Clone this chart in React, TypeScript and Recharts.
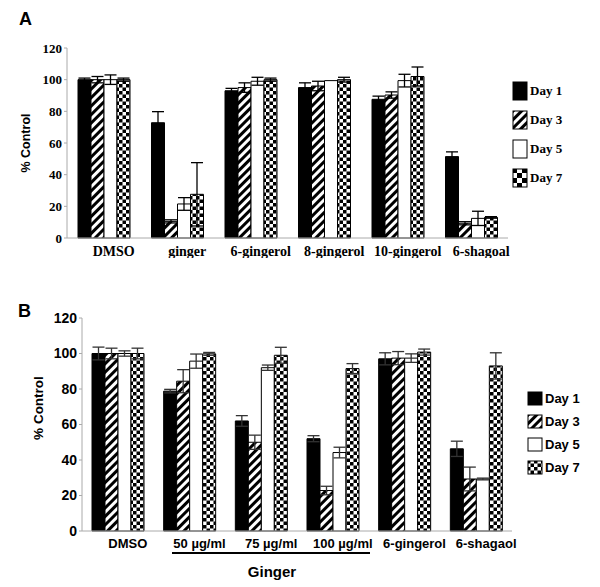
import { Bar, BarChart, ErrorBar, XAxis, YAxis } from "recharts";

// ---- panel A ----
const groupsA = ["DMSO", "ginger", "6-gingerol", "8-gingerol", "10-gingerol", "6-shagoal"];
const aDay1 = [100, 72.8, 93, 95, 87.6, 51.4];
const aDay1Err = [1, 7, 1.5, 3, 2, 3];
const aDay3 = [100, 10.5, 95, 96, 90.3, 9.3];
const aDay3Err = [2, 1, 3, 3, 2, 1];
const aDay5 = [100, 21.5, 99, 99.4, 99.4, 12.4];
const aDay5Err = [3, 4, 2.5, 0, 4, 4.5];
const aDay7 = [100, 27.6, 100, 100, 102, 13];
const aDay7Err = [1, 20, 1, 1.5, 6, 0.5];

// ---- panel B ----
const groupsB = ["DMSO", "50 µg/ml", "75 µg/ml", "100 µg/ml", "6-gingerol", "6-shagaol"];
const bDay1 = [100, 78.8, 62, 52, 97, 46.3];
const bDay1Err = [3.6, 1, 3, 1.7, 3.4, 4.3];
const bDay3 = [100, 84.4, 50, 22.8, 97.4, 29.3];
const bDay3Err = [3, 6.5, 4, 2.4, 3.7, 6.7];
const bDay5 = [100, 95.7, 92, 44.2, 97.4, 29.3];
const bDay5Err = [1.5, 4, 1.5, 3, 2.4, 0.5];
const bDay7 = [100, 99.8, 99, 91.5, 100.8, 93];
const bDay7Err = [3, 0.8, 4.5, 2.8, 1.7, 7.4];

const days = ["Day 1", "Day 3", "Day 5", "Day 7"];
const yTicks = [0, 20, 40, 60, 80, 100, 120];

const SERIF = "'Liberation Serif', 'Times New Roman', serif";
const SANS = "'Liberation Sans', Arial, sans-serif";

const fills = ["#000", "url(#hatch)", "#fff", "url(#check)"];
const swatchA = ["#000", "url(#hatch)", "#fff", "url(#checkBig)"];

const build = (g: string[], s: number[][]) =>
  g.map((name, i) => ({
    name,
    d1: s[0][i], e1: s[1][i],
    d3: s[2][i], e3: s[3][i],
    d5: s[4][i], e5: s[5][i],
    d7: s[6][i], e7: s[7][i],
  }));

const dataA = build(groupsA, [aDay1, aDay1Err, aDay3, aDay3Err, aDay5, aDay5Err, aDay7, aDay7Err]);
const dataB = build(groupsB, [bDay1, bDay1Err, bDay3, bDay3Err, bDay5, bDay5Err, bDay7, bDay7Err]);

function Patterns() {
  return (
    <svg width="0" height="0" style={{ position: "absolute" }}>
      <defs>
        <pattern id="hatch" width="6" height="6" patternUnits="userSpaceOnUse" patternTransform="rotate(45)">
          <rect width="6" height="6" fill="#fff" />
          <rect width="3" height="6" fill="#000" />
        </pattern>
        <pattern id="check" width="7" height="7" patternUnits="userSpaceOnUse">
          <rect width="7" height="7" fill="#fff" />
          <rect width="3.5" height="3.5" fill="#000" />
          <rect x="3.5" y="3.5" width="3.5" height="3.5" fill="#000" />
        </pattern>
        <pattern id="checkBig" width="10" height="10" patternUnits="userSpaceOnUse">
          <rect width="10" height="10" fill="#fff" />
          <rect width="5" height="5" fill="#000" />
          <rect x="5" y="5" width="5" height="5" fill="#000" />
        </pattern>
      </defs>
    </svg>
  );
}

function Panel({ data, font, tickSize, yTickSize, errColor, height, margin, yWidth }: any) {
  const keys = ["d1", "d3", "d5", "d7"];
  const errs = ["e1", "e3", "e5", "e7"];
  return (
    <BarChart width={600} height={height} data={data} margin={margin} barGap={0} barSize={13}>
      <XAxis
        dataKey="name"
        tickLine={false}
        axisLine={{ stroke: "#aaa" }}
        interval={0}
        height={20}
        tick={{ fontFamily: font, fontWeight: "bold", fontSize: tickSize, fill: "#000", dx: 10 }}
      />
      <YAxis
        domain={[0, 120]}
        ticks={yTicks}
        interval={0}
        width={yWidth}
        tickSize={3}
        tickLine={{ stroke: "#aaa" }}
        axisLine={{ stroke: "#aaa" }}
        tick={{ fontFamily: font, fontWeight: "bold", fontSize: yTickSize, fill: "#000" }}
      />
      {keys.map((k, i) => (
        <Bar key={k} dataKey={k} fill={fills[i]} stroke="#000" strokeWidth={1} isAnimationActive={false}>
          <ErrorBar dataKey={errs[i]} width={6} stroke={errColor} strokeWidth={1.3} direction="y" isAnimationActive={false} />
        </Bar>
      ))}
    </BarChart>
  );
}

function LegendList({ left, top, gap, font, size, boxW, boxH, sw }: any) {
  return (
    <div style={{ position: "absolute", left, top }}>
      {days.map((d, i) => (
        <div key={d} style={{ display: "flex", alignItems: "center", height: gap }}>
          <svg width={boxW + 2} height={boxH + 2}>
            <rect x={1} y={1} width={boxW} height={boxH} fill={sw[i]} stroke="#000" strokeWidth={1} />
          </svg>
          <span style={{ fontFamily: font, fontWeight: "bold", fontSize: size, marginLeft: 2 }}>{d}</span>
        </div>
      ))}
    </div>
  );
}

const abs = (s: any) => ({ position: "absolute" as const, ...s });

export default function App() {
  return (
    <div style={{ position: "absolute", left: 0, top: 0, width: 600, height: 587, background: "#fff" }}>
      <Patterns />
      <div style={abs({ left: 0, top: 0 })}>
        <Panel data={dataA} font={SERIF} tickSize={14} yTickSize={13} errColor="#000" height={258}
          margin={{ top: 48, right: 92, left: 17, bottom: 0 }} yWidth={50} />
      </div>
      <div style={abs({ left: 0, top: 280 })}>
        <Panel data={dataB} font={SANS} tickSize={13} yTickSize={14} errColor="#333" height={307}
          margin={{ top: 38, right: 88, left: 22, bottom: 36 }} yWidth={60} />
      </div>

      <div style={abs({ left: 19, top: 9, fontFamily: SANS, fontWeight: "bold", fontSize: 18 })}>A</div>
      <div style={abs({ left: 18, top: 301, fontFamily: SANS, fontWeight: "bold", fontSize: 18 })}>B</div>

      <div style={abs({ left: 26, top: 143, fontFamily: SANS, fontWeight: "bold", fontSize: 12.5, transform: "translate(-50%,-50%) rotate(-90deg)", whiteSpace: "nowrap" })}>% Control</div>
      <div style={abs({ left: 38, top: 408, fontFamily: SANS, fontWeight: "bold", fontSize: 13.5, transform: "translate(-50%,-50%) rotate(-90deg)", whiteSpace: "nowrap" })}>% Control</div>

      <LegendList left={512} top={76} gap={29} font={SERIF} size={13} boxW={14} boxH={18} sw={swatchA} />
      <LegendList left={527} top={387} gap={23} font={SANS} size={13} boxW={14} boxH={13} sw={fills} />

      <div style={abs({ left: 172, top: 552, width: 198, height: 2, background: "#000" })} />
      <div style={abs({ left: 272, top: 571, transform: "translate(-50%,-50%)", fontFamily: SANS, fontWeight: "bold", fontSize: 15 })}>Ginger</div>
    </div>
  );
}
